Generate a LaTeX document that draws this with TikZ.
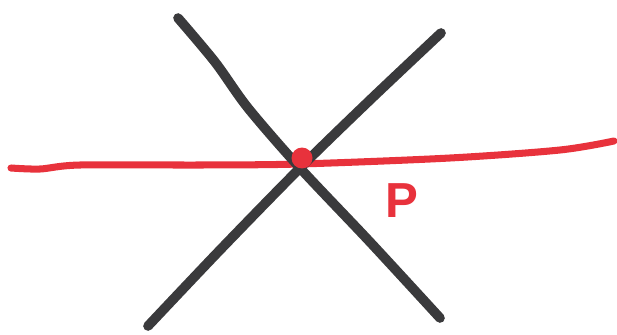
\documentclass[tikz,border=0pt]{standalone}
\usepackage{fontspec}
\setsansfont{Liberation Sans}
\usetikzlibrary{positioning}
\definecolor{inkred}{HTML}{E8323C}
\definecolor{inkgray}{HTML}{3A3A3C}

\begin{document}
\begin{tikzpicture}[x=0.02cm, y=-0.02cm,
  blackline/.style={draw=inkgray, line width=5.5pt, line cap=round},
  redline/.style={draw=inkred, line width=4pt, line cap=round},
  pointdot/.style={circle, fill=inkred, inner sep=0pt, minimum size=0.42cm},
  plabel/.style={text=inkred, font=\sffamily\bfseries\fontsize{28}{28}\selectfont, inner sep=0pt}
]
  \useasboundingbox (0,0) rectangle (617,334);

  % the red line through P
  \draw[redline] plot[smooth, tension=0.5] coordinates {(11,168) (40,169) (80,165) (200,165) (300,164) (450,158) (560,150) (614,141)};

  % the two black lines
  \draw[blackline] plot[smooth, tension=0.5] coordinates {(178,18) (215,62) (248,108) (300,168) (370,242) (440,318)};
  \draw[blackline] plot[smooth, tension=0.5] coordinates {(441,33) (370,100) (300,168) (220,250) (148,326)};

  % the point and its label
  \node[pointdot] (p) at (302,158) {};
  \node[plabel, below right=0.35cm and 1.5cm of p] (plab) {P};
\end{tikzpicture}
\end{document}
